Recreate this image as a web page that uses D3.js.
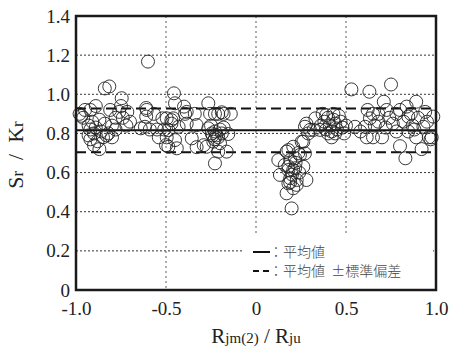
<!DOCTYPE html>
<html>
<head>
<meta charset="utf-8">
<script src="https://cdn.jsdelivr.net/npm/d3@7"></script>
<style>
  body { margin: 0; background: #fff; }
</style>
</head>
<body>
<svg id="chart"></svg>
<script>
// point groups: [Rjm(2)/Rju, Sr/Kr]
const groupA = [[-0.98,0.90],[-0.97,0.89],[-0.95,0.92],[-0.96,0.88],[-0.93,0.84],[-0.92,0.82],[-0.93,0.79],[-0.92,0.77],
  [-0.90,0.80],[-0.91,0.86],[-0.89,0.94],[-0.92,0.92],[-0.87,0.87],[-0.87,0.72],[-0.89,0.83],[-0.86,0.81],[-0.85,0.78],
  [-0.84,0.85],[-0.84,1.03],[-0.815,1.04],[-0.83,0.79],[-0.81,0.92],[-0.80,0.78],[-0.80,0.84],[-0.78,0.88],[-0.76,0.91],
  [-0.75,0.94],[-0.746,0.98],[-0.74,0.88],[-0.715,0.91],[-0.70,0.86],[-0.72,0.84],[-0.88,0.76],[-0.90,0.74],[-0.82,0.80],[-0.78,0.82]];
const groupB = [[-0.64,0.826],[-0.617,0.834],[-0.61,0.93],[-0.607,0.92],[-0.61,0.886],[-0.60,1.167],[-0.59,0.82],[-0.567,0.90],
  [-0.55,0.82],[-0.54,0.78],[-0.52,0.877],[-0.51,0.82],[-0.50,0.74],[-0.496,0.877],[-0.496,0.78],[-0.487,0.817],
  [-0.487,0.732],[-0.47,0.868],[-0.47,0.85],[-0.46,0.877],[-0.456,1.005],[-0.45,0.954],[-0.45,0.766],[-0.44,0.724],
  [-0.43,0.834],[-0.40,0.937],[-0.394,0.90],[-0.385,0.85],[-0.385,0.91],[-0.357,0.775],[-0.34,0.90],[-0.33,0.73],[-0.33,0.843]];
const groupC = [[-0.29,0.74],[-0.274,0.732],[-0.265,0.954],[-0.265,0.826],[-0.255,0.90],[-0.246,0.80],[-0.237,0.758],
  [-0.228,0.90],[-0.228,0.81],[-0.228,0.647],[-0.22,0.79],[-0.21,0.78],[-0.21,0.707],[-0.21,0.90],[-0.20,0.82],[-0.19,0.80],
  [-0.19,0.908],[-0.18,0.90],[-0.163,0.707],[-0.154,0.797],[-0.14,0.90],[-0.23,0.77],[-0.25,0.84],[-0.20,0.75],[-0.18,0.83],[-0.24,0.79]];
const groupD = [[0.124,0.664],[0.133,0.588],[0.16,0.639],[0.17,0.707],[0.17,0.494],[0.18,0.715],[0.18,0.63],[0.18,0.613],
  [0.18,0.545],[0.19,0.664],[0.19,0.571],[0.198,0.417],[0.207,0.732],[0.207,0.613],[0.207,0.52],[0.217,0.673],[0.217,0.622],
  [0.226,0.562],[0.226,0.537],[0.235,0.70],[0.244,0.69],[0.254,0.758],[0.263,0.63],[0.263,0.758],[0.272,0.698],[0.272,0.834],
  [0.28,0.562],[0.28,0.85],[0.29,0.80],[0.30,0.818],[0.20,0.59],[0.24,0.60],[0.22,0.65],[0.19,0.55]];
const groupE = [[0.32,0.818],[0.33,0.877],[0.356,0.818],[0.37,0.90],[0.39,0.894],[0.38,0.86],[0.40,0.88],[0.41,0.84],
  [0.42,0.81],[0.40,0.80],[0.43,0.87],[0.44,0.85],[0.45,0.82],[0.42,0.78],[0.46,0.89],[0.47,0.86],[0.48,0.83],[0.50,0.84],
  [0.44,0.80],[0.36,0.84],[0.39,0.82],[0.49,0.80],[0.53,1.025],[0.55,0.834],[0.43,0.90]];
const groupF = [[0.606,0.834],[0.615,0.78],[0.63,1.013],[0.633,0.877],[0.65,0.90],[0.65,0.78],[0.66,0.84],[0.68,0.86],
  [0.70,0.78],[0.71,0.962],[0.72,0.83],[0.726,0.92],[0.74,0.88],[0.75,1.05],[0.76,0.85],[0.78,0.81],[0.78,0.90],[0.80,0.92],
  [0.80,0.735],[0.82,0.86],[0.83,0.673],[0.837,0.937],[0.846,0.886],[0.846,0.81],[0.86,0.90],[0.87,0.84],[0.89,0.962],
  [0.89,0.78],[0.90,0.88],[0.92,0.72],[0.93,0.834],[0.94,0.91],[0.96,0.78],[0.976,0.78],[0.985,0.886],[0.97,0.77],
  [0.95,0.86],[0.58,0.81],[0.68,0.90],[0.62,0.92],[0.88,0.82]];

const meanValue = 0.816;
const sdValue = 0.112;
const xTicks = [-1.0, -0.5, 0, 0.5, 1.0];
const xTickLabels = ['-1.0', '-0.5', '0', '0.5', '1.0'];
const yTicks = [0, 0.2, 0.4, 0.6, 0.8, 1.0, 1.2, 1.4];
const yTickLabels = ['0', '0.2', '0.4', '0.6', '0.8', '1.0', '1.2', '1.4'];
const legendLabels = ['：平均値', '：平均値  ±標準偏差'];

const W = 464, H = 349;
const margin = { top: 16, right: 28, bottom: 59, left: 76 };
const width = W - margin.left - margin.right;
const height = H - margin.top - margin.bottom;
const SERIF = '"Liberation Serif"';

const svg = d3.select('#chart').attr('width', W).attr('height', H)
  .append('g').attr('transform', 'translate(' + margin.left + ',' + margin.top + ')');

const x = d3.scaleLinear().domain([-1, 1]).range([0, width]);
const y = d3.scaleLinear().domain([0, 1.4]).range([height, 0]);

// dotted grid
svg.selectAll('line.hgrid').data(yTicks.slice(1, -1)).enter().append('line')
  .attr('x1', 0).attr('x2', width)
  .attr('y1', d => y(d)).attr('y2', d => y(d))
  .attr('stroke', '#333').attr('stroke-width', 1).attr('stroke-dasharray', '2,2');
svg.selectAll('line.vgrid').data(xTicks.slice(1, -1)).enter().append('line')
  .attr('y1', 0).attr('y2', height)
  .attr('x1', d => x(d)).attr('x2', d => x(d))
  .attr('stroke', '#777').attr('stroke-width', 1.2).attr('stroke-dasharray', '2,3');

// mean and +/- sd
svg.append('line').attr('x1', 0).attr('x2', width)
  .attr('y1', y(meanValue)).attr('y2', y(meanValue))
  .attr('stroke', '#111').attr('stroke-width', 2);
[meanValue + sdValue, meanValue - sdValue].forEach(v => {
  svg.append('line').attr('x1', 0).attr('x2', width)
    .attr('y1', y(v)).attr('y2', y(v))
    .attr('stroke', '#111').attr('stroke-width', 2).attr('stroke-dasharray', '10,5');
});

// points
const allPoints = [].concat(groupA, groupB, groupC, groupD, groupE, groupF);
svg.append('g').selectAll('circle').data(allPoints).enter().append('circle')
  .attr('cx', d => x(d[0])).attr('cy', d => y(d[1])).attr('r', 6.5)
  .attr('fill', 'none').attr('stroke', '#222').attr('stroke-width', 0.9);

// legend
const lg = svg.append('g').attr('transform', 'translate(' + (width - 193) + ',' + (height - 54) + ')');
lg.append('rect').attr('width', 190).attr('height', 52).attr('fill', '#fff');
lg.append('line').attr('x1', 10).attr('x2', 27).attr('y1', 16).attr('y2', 16)
  .attr('stroke', '#111').attr('stroke-width', 2);
lg.append('line').attr('x1', 10).attr('x2', 27).attr('y1', 35).attr('y2', 35)
  .attr('stroke', '#111').attr('stroke-width', 2).attr('stroke-dasharray', '6,4');
lg.selectAll('text').data(legendLabels).enter().append('text')
  .attr('x', 26).attr('y', (d, i) => 16 + i * 19).attr('dy', '0.35em')
  .style('font-family', '"Noto Sans CJK JP"').style('font-size', '14px').style('font-weight', 300)
  .style('fill', '#444').style('white-space', 'pre').text(d => d);

// axes frame
svg.append('rect').attr('width', width).attr('height', height)
  .attr('fill', 'none').attr('stroke', '#1a1a1a').attr('stroke-width', 2.5);

const xAxis = d3.axisBottom(x).tickValues(xTicks).tickSize(0).tickPadding(12)
  .tickFormat((d, i) => xTickLabels[i]);
svg.append('g').attr('transform', 'translate(0,' + height + ')').call(xAxis)
  .call(g => g.select('.domain').remove())
  .selectAll('text').style('font-family', SERIF).style('font-size', '19px').style('fill', '#222');

const yAxis = d3.axisLeft(y).tickValues(yTicks).tickSize(0).tickPadding(6)
  .tickFormat((d, i) => yTickLabels[i]);
svg.append('g').call(yAxis)
  .call(g => g.select('.domain').remove())
  .selectAll('text').style('font-family', SERIF).style('font-size', '19px').style('fill', '#222');

// axis titles
const xt = svg.append('text').attr('x', width / 2).attr('y', height + 53)
  .attr('text-anchor', 'middle').style('font-family', SERIF).style('font-size', '21px').style('fill', '#222');
xt.append('tspan').text('R');
xt.append('tspan').style('font-size', '15px').text('jm(2)');
xt.append('tspan').text(' / R');
xt.append('tspan').style('font-size', '15px').text('ju');

const yt = svg.append('text')
  .attr('transform', 'translate(' + (-53) + ',' + (height / 2 + 2) + ') rotate(-90)')
  .attr('text-anchor', 'middle').style('font-family', SERIF).style('font-size', '22px').style('fill', '#222');
yt.append('tspan').text('S');
yt.append('tspan').style('font-size', '17px').text('r');
yt.append('tspan').text('  /  K');
yt.append('tspan').style('font-size', '17px').text('r');
yt.style('white-space', 'pre');
</script>
</body>
</html>
